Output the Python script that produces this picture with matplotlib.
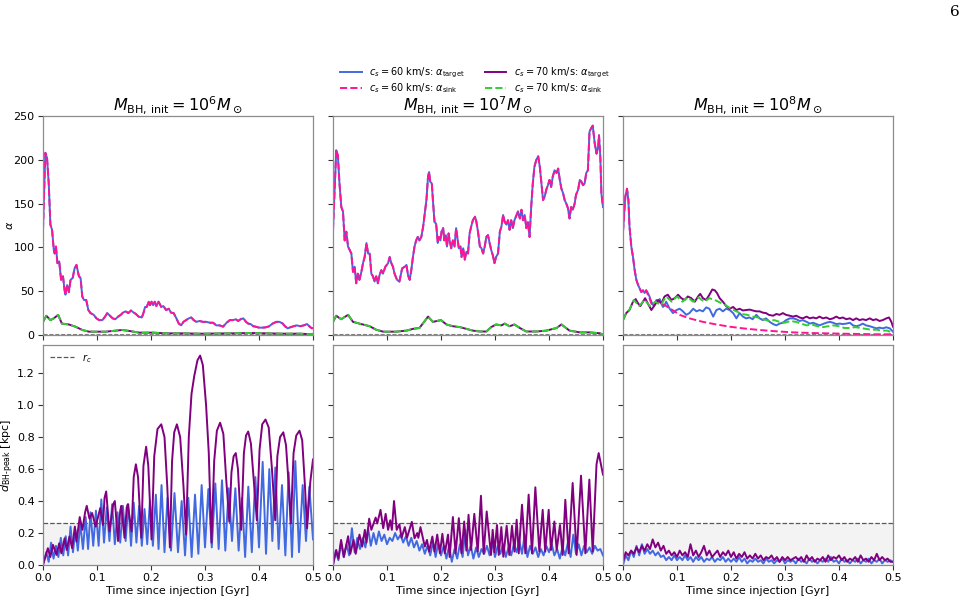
import matplotlib
matplotlib.use("Agg")
import matplotlib.pyplot as plt
import numpy as np

# ---------------- data ----------------
masses = ["10^6", "10^7", "10^8"]
xticks = [0.0, 0.1, 0.2, 0.3, 0.4, 0.5]
alpha_ticks = [0, 50, 100, 150, 200, 250]
d_ticks = [0.0, 0.2, 0.4, 0.6, 0.8, 1.0, 1.2]
r_c = 0.265

# alpha, M=1e6, cs=60 (target == sink)
alpha60_1e6 = [(0, 120), (0.0043, 208), (0.0075, 202), (0.0106, 173), (0.0137, 126), (0.0168, 120),
               (0.020, 97), (0.0217, 93), (0.024, 101), (0.0267, 82), (0.030, 84), (0.0335, 63),
               (0.037, 67), (0.040, 51), (0.0416, 46), (0.0447, 57), (0.048, 49), (0.051, 63),
               (0.055, 65), (0.0584, 76), (0.062, 80), (0.0665, 67), (0.0696, 65), (0.0727, 44),
               (0.0758, 40), (0.080, 40), (0.084, 28.5), (0.088, 25), (0.094, 23), (0.099, 19),
               (0.104, 17), (0.110, 17), (0.115, 21), (0.119, 25), (0.124, 22), (0.129, 19),
               (0.134, 18), (0.139, 21), (0.144, 23), (0.148, 25.5), (0.153, 27), (0.158, 25),
               (0.163, 28), (0.167, 26), (0.172, 24), (0.177, 21), (0.183, 20), (0.186, 25),
               (0.189, 32), (0.192, 32), (0.196, 38), (0.198, 34), (0.201, 38), (0.204, 34),
               (0.207, 38), (0.210, 33), (0.214, 38), (0.219, 32), (0.223, 33), (0.228, 28.5),
               (0.233, 30), (0.237, 25.5), (0.242, 25), (0.247, 19), (0.2515, 13), (0.256, 11),
               (0.260, 15), (0.265, 17), (0.270, 19), (0.2745, 20), (0.279, 17), (0.284, 15),
               (0.290, 16), (0.296, 15), (0.3025, 15), (0.309, 14), (0.315, 14), (0.321, 11),
               (0.327, 11), (0.3335, 9.5), (0.340, 14), (0.346, 17), (0.352, 17), (0.357, 18),
               (0.3615, 16), (0.366, 18), (0.371, 19), (0.376, 15), (0.380, 13), (0.3845, 12.5),
               (0.3894, 10), (0.394, 9.5), (0.400, 8.4), (0.407, 8.4), (0.413, 8.8), (0.419, 10),
               (0.425, 13), (0.432, 15), (0.438, 15), (0.444, 13), (0.448, 10), (0.453, 7.6),
               (0.458, 8.8), (0.464, 10), (0.470, 11), (0.476, 10), (0.483, 11), (0.489, 12.5),
               (0.494, 9.5), (0.498, 7.6), (0.5, 8)]
# alpha, M=1e6, cs=70 (target == sink)
alpha70_1e6 = [(0, 15), (0.0062, 22), (0.0137, 17), (0.020, 19), (0.028, 23), (0.035, 13),
               (0.048, 12), (0.060, 9.5), (0.073, 5.7), (0.085, 3.8), (0.104, 3.8), (0.116, 3.8),
               (0.135, 5), (0.147, 5.7), (0.160, 4.6), (0.178, 2.7), (0.203, 2.7), (0.228, 1.9),
               (0.259, 1.9), (0.290, 1.5), (0.352, 1.9), (0.383, 2.3), (0.414, 1.9), (0.445, 1.5),
               (0.476, 1.5), (0.5, 0.8)]

# alpha, M=1e7, cs=60 (target == sink)
alpha60_1e7 = [(0.0, 120), (0.006, 211), (0.009, 205), (0.012, 173), (0.0154, 146), (0.0185, 141),
               (0.0216, 108), (0.0247, 118), (0.0278, 101), (0.031, 97), (0.034, 93), (0.037, 72),
               (0.040, 78), (0.043, 59), (0.046, 70), (0.049, 63), (0.0525, 72), (0.0556, 82),
               (0.0586, 89), (0.062, 105), (0.065, 93), (0.068, 93), (0.071, 70), (0.074, 67),
               (0.077, 61), (0.080, 67), (0.083, 59), (0.086, 68), (0.0895, 74), (0.0926, 70),
               (0.097, 78), (0.102, 82), (0.105, 89), (0.108, 82), (0.111, 78), (0.114, 70),
               (0.1185, 63), (0.123, 61), (0.128, 76), (0.133, 78), (0.136, 80), (0.139, 68),
               (0.142, 63), (0.145, 74), (0.148, 89), (0.151, 101), (0.154, 108), (0.157, 112),
               (0.160, 108), (0.1636, 112), (0.167, 124), (0.170, 139), (0.173, 154), (0.176, 181),
               (0.178, 186), (0.180, 175), (0.183, 173), (0.185, 154), (0.188, 129), (0.191, 127),
               (0.194, 105), (0.196, 112), (0.199, 108), (0.201, 118), (0.204, 122), (0.206, 108),
               (0.209, 114), (0.211, 101), (0.214, 116), (0.216, 108), (0.219, 99), (0.222, 108),
               (0.225, 101), (0.228, 122), (0.231, 108), (0.233, 99), (0.236, 101), (0.238, 89),
               (0.241, 99), (0.244, 86), (0.247, 95), (0.250, 93), (0.253, 116), (0.256, 124),
               (0.259, 131), (0.263, 135), (0.265, 131), (0.2685, 118), (0.272, 101), (0.275, 99),
               (0.278, 93), (0.281, 101), (0.284, 112), (0.287, 114), (0.290, 105), (0.293, 97),
               (0.296, 91), (0.299, 82), (0.302, 89), (0.3056, 93), (0.309, 118), (0.312, 124),
               (0.315, 137), (0.318, 129), (0.321, 126), (0.324, 131), (0.327, 120), (0.330, 131),
               (0.333, 122), (0.336, 131), (0.340, 137), (0.3426, 141), (0.346, 133), (0.349, 143),
               (0.352, 131), (0.355, 137), (0.358, 122), (0.361, 129), (0.364, 112), (0.367, 146),
               (0.370, 173), (0.373, 192), (0.3765, 200), (0.380, 204), (0.383, 192), (0.386, 173),
               (0.389, 154), (0.392, 158), (0.395, 166), (0.398, 171), (0.401, 177), (0.404, 169),
               (0.407, 181), (0.4105, 188), (0.414, 185), (0.417, 190), (0.420, 177), (0.423, 167),
               (0.426, 162), (0.429, 154), (0.432, 150), (0.435, 145), (0.438, 133), (0.441, 146),
               (0.444, 143), (0.4475, 150), (0.450, 160), (0.454, 166), (0.457, 177), (0.460, 175),
               (0.463, 171), (0.466, 173), (0.469, 185), (0.472, 188), (0.475, 232), (0.478, 236),
               (0.481, 239), (0.4846, 219), (0.488, 207), (0.491, 215), (0.4926, 228), (0.495, 204),
               (0.497, 162), (0.5, 146)]
# alpha, M=1e7, cs=70 (target == sink)
alpha70_1e7 = [(0.0, 15), (0.006, 22), (0.015, 18), (0.028, 23), (0.037, 15), (0.049, 13),
               (0.068, 10), (0.080, 6), (0.093, 3.8), (0.117, 3.8), (0.136, 5), (0.148, 7),
               (0.160, 8), (0.170, 16), (0.176, 21), (0.185, 15), (0.200, 17), (0.210, 12),
               (0.222, 10), (0.235, 9), (0.247, 7), (0.259, 5), (0.272, 4), (0.284, 4),
               (0.293, 9), (0.302, 12), (0.312, 11), (0.318, 13), (0.327, 10), (0.336, 12),
               (0.346, 8), (0.358, 4), (0.377, 4), (0.395, 5), (0.414, 8), (0.423, 12),
               (0.438, 5), (0.457, 3), (0.475, 3), (0.494, 2), (0.5, 0.5)]

# alpha, M=1e8
alpha60_target_1e8 = [(0.0, 118), (0.0043, 158), (0.0074, 167), (0.010, 154), (0.012, 124),
                      (0.0154, 101), (0.0185, 89), (0.0216, 74), (0.0247, 63), (0.028, 57),
                      (0.031, 53), (0.034, 49), (0.037, 51), (0.040, 48), (0.043, 51), (0.046, 48),
                      (0.049, 44), (0.0525, 38), (0.056, 34), (0.0586, 36), (0.062, 40), (0.065, 38),
                      (0.068, 41), (0.071, 36), (0.074, 32), (0.077, 34), (0.080, 38), (0.0864, 30),
                      (0.0926, 25), (0.099, 28.5), (0.105, 30), (0.111, 27), (0.117, 23), (0.123, 25),
                      (0.130, 30), (0.136, 27), (0.142, 28.5), (0.148, 27), (0.154, 31.5), (0.160, 30),
                      (0.167, 21), (0.173, 28.5), (0.179, 30), (0.185, 27), (0.191, 30), (0.1975, 28.5),
                      (0.204, 25), (0.210, 19), (0.216, 25), (0.222, 21), (0.228, 19), (0.2346, 20),
                      (0.240, 18), (0.247, 23), (0.253, 19), (0.259, 17), (0.265, 19), (0.2716, 15),
                      (0.278, 12.5), (0.284, 11), (0.290, 13), (0.296, 14), (0.302, 17), (0.309, 19),
                      (0.315, 19), (0.321, 18), (0.327, 16), (0.333, 17), (0.340, 15), (0.346, 13),
                      (0.352, 14), (0.358, 12.5), (0.364, 11), (0.370, 12.5), (0.3765, 14), (0.383, 15),
                      (0.389, 14), (0.395, 12.5), (0.401, 13), (0.407, 12.5), (0.4136, 13), (0.420, 14),
                      (0.426, 11), (0.432, 10), (0.438, 11), (0.444, 13), (0.450, 11), (0.457, 10),
                      (0.463, 8.8), (0.469, 7.6), (0.475, 8.4), (0.481, 7.6), (0.4877, 8.8), (0.494, 7.6),
                      (0.5, 3.8)]
alpha60_sink_1e8 = [(0.0, 118), (0.0043, 158), (0.0074, 167), (0.010, 154), (0.012, 124),
                    (0.0154, 101), (0.0185, 89), (0.0216, 74), (0.0247, 63), (0.028, 57),
                    (0.031, 53), (0.034, 49), (0.037, 51), (0.040, 48), (0.043, 51), (0.046, 46),
                    (0.049, 42), (0.0525, 36), (0.056, 33), (0.0586, 35), (0.062, 38), (0.068, 37),
                    (0.080, 33), (0.093, 28), (0.105, 23), (0.123, 19), (0.148, 15), (0.173, 12),
                    (0.1975, 9.5), (0.222, 7.6), (0.253, 5.7), (0.284, 4.2), (0.315, 3),
                    (0.346, 2.3), (0.407, 1.5), (0.469, 0.8), (0.5, 0.8)]
alpha70_target_1e8 = [(0.0, 17), (0.006, 25), (0.012, 28.5), (0.0185, 38), (0.0235, 41), (0.028, 36),
                      (0.032, 33), (0.037, 38), (0.041, 42), (0.046, 36), (0.0525, 28.5), (0.0586, 34),
                      (0.065, 40), (0.071, 36), (0.077, 44), (0.083, 46), (0.0895, 40), (0.0957, 42),
                      (0.102, 46), (0.108, 42), (0.114, 40), (0.120, 44), (0.1265, 42), (0.133, 38),
                      (0.139, 44), (0.143, 47), (0.148, 42), (0.154, 40), (0.160, 46), (0.1654, 52),
                      (0.170, 51), (0.174, 48), (0.179, 42), (0.185, 38), (0.191, 33), (0.1975, 30),
                      (0.204, 32), (0.210, 28.5), (0.216, 30), (0.222, 28), (0.228, 28.5), (0.2346, 29),
                      (0.240, 28), (0.247, 27), (0.253, 27), (0.259, 25.5), (0.265, 25), (0.270, 23),
                      (0.278, 22), (0.284, 24), (0.290, 23), (0.296, 25), (0.302, 23), (0.309, 22),
                      (0.315, 21), (0.321, 22), (0.327, 20), (0.333, 19), (0.340, 21), (0.346, 19),
                      (0.352, 20), (0.358, 19), (0.364, 21), (0.370, 19), (0.3765, 20), (0.383, 18),
                      (0.389, 19), (0.395, 21), (0.401, 19), (0.407, 20), (0.4136, 18), (0.420, 19),
                      (0.426, 17), (0.432, 19), (0.438, 17), (0.444, 18), (0.450, 17), (0.457, 19),
                      (0.463, 17), (0.469, 18), (0.475, 16), (0.481, 17), (0.4877, 19), (0.4926, 20),
                      (0.497, 15), (0.5, 9.5)]
alpha70_sink_1e8 = [(0.0, 17), (0.006, 25), (0.012, 29), (0.020, 40), (0.030, 33), (0.040, 40),
                    (0.050, 33), (0.060, 38), (0.070, 34), (0.080, 44), (0.090, 38), (0.100, 44),
                    (0.110, 38), (0.120, 43), (0.130, 38), (0.140, 43), (0.150, 38), (0.160, 42),
                    (0.170, 40), (0.180, 37), (0.190, 34), (0.200, 30), (0.210, 27), (0.220, 24),
                    (0.230, 23), (0.240, 21), (0.250, 20), (0.260, 18), (0.270, 16), (0.280, 17),
                    (0.290, 15), (0.300, 14), (0.310, 16), (0.320, 15), (0.330, 13), (0.340, 11),
                    (0.350, 12), (0.360, 10), (0.370, 9), (0.380, 10), (0.390, 11), (0.400, 10),
                    (0.410, 8), (0.420, 8), (0.430, 9), (0.440, 8), (0.450, 7), (0.460, 6),
                    (0.470, 6), (0.480, 5), (0.490, 5), (0.5, 2)]

# d_BH-peak [kpc]
d60_1e6 = [(0, 0.0), (0.006, 0.08), (0.0105, 0.02), (0.015, 0.14), (0.0195, 0.04), (0.024, 0.12),
           (0.0285, 0.05), (0.033, 0.17), (0.0375, 0.06), (0.042, 0.18), (0.0465, 0.06), (0.051, 0.24),
           (0.0555, 0.08), (0.060, 0.22), (0.0645, 0.09), (0.069, 0.26), (0.074, 0.10), (0.079, 0.30),
           (0.0835, 0.10), (0.088, 0.33), (0.093, 0.12), (0.098, 0.34), (0.103, 0.12), (0.108, 0.41),
           (0.113, 0.14), (0.118, 0.36), (0.123, 0.15), (0.128, 0.38), (0.133, 0.13), (0.138, 0.33),
           (0.143, 0.14), (0.148, 0.37), (0.153, 0.15), (0.158, 0.38), (0.163, 0.12), (0.168, 0.39),
           (0.173, 0.14), (0.178, 0.37), (0.183, 0.12), (0.188, 0.35), (0.193, 0.13), (0.198, 0.40),
           (0.2035, 0.12), (0.209, 0.44), (0.214, 0.10), (0.2195, 0.50), (0.225, 0.08), (0.2305, 0.42),
           (0.237, 0.09), (0.2435, 0.45), (0.250, 0.08), (0.2568, 0.40), (0.263, 0.06), (0.2691, 0.42),
           (0.2753, 0.05), (0.2815, 0.44), (0.2877, 0.07), (0.2938, 0.50), (0.300, 0.11), (0.3062, 0.475),
           (0.3126, 0.11), (0.3191, 0.51), (0.3253, 0.10), (0.3315, 0.53), (0.3376, 0.09), (0.3438, 0.48),
           (0.350, 0.15), (0.3562, 0.48), (0.3623, 0.09), (0.3685, 0.42), (0.3743, 0.05), (0.3802, 0.49),
           (0.3867, 0.08), (0.3932, 0.55), (0.400, 0.11), (0.4068, 0.645), (0.413, 0.07), (0.4191, 0.60),
           (0.4247, 0.15), (0.4302, 0.61), (0.4364, 0.10), (0.4426, 0.50), (0.4488, 0.06), (0.4549, 0.58),
           (0.4611, 0.05), (0.4673, 0.65), (0.4741, 0.08), (0.4809, 0.50), (0.487, 0.15), (0.4932, 0.49),
           (0.5, 0.16)]
d70_1e6 = [(0, 0.0), (0.009, 0.105), (0.0136, 0.05), (0.0185, 0.126), (0.025, 0.063), (0.030, 0.136),
           (0.034, 0.073), (0.040, 0.167), (0.044, 0.094), (0.049, 0.178), (0.054, 0.105), (0.059, 0.24),
           (0.062, 0.147), (0.068, 0.30), (0.073, 0.22), (0.078, 0.33), (0.081, 0.37), (0.086, 0.29),
           (0.091, 0.325), (0.0975, 0.24), (0.106, 0.356), (0.111, 0.25), (0.114, 0.42), (0.117, 0.46),
           (0.123, 0.21), (0.130, 0.38), (0.133, 0.40), (0.139, 0.15), (0.143, 0.34), (0.145, 0.37),
           (0.151, 0.17), (0.155, 0.36), (0.157, 0.38), (0.164, 0.21), (0.168, 0.55), (0.172, 0.63),
           (0.176, 0.55), (0.182, 0.17), (0.186, 0.62), (0.191, 0.74), (0.195, 0.62), (0.201, 0.16),
           (0.206, 0.68), (0.212, 0.85), (0.219, 0.88), (0.225, 0.80), (0.230, 0.50), (0.235, 0.11),
           (0.239, 0.65), (0.243, 0.83), (0.248, 0.88), (0.254, 0.80), (0.260, 0.50), (0.265, 0.19),
           (0.270, 0.80), (0.275, 1.07), (0.280, 1.18), (0.286, 1.28), (0.291, 1.31), (0.296, 1.25),
           (0.302, 1.00), (0.307, 0.70), (0.312, 0.14), (0.317, 0.65), (0.322, 0.84), (0.328, 0.89),
           (0.334, 0.82), (0.339, 0.55), (0.345, 0.27), (0.349, 0.58), (0.353, 0.68), (0.357, 0.70),
           (0.361, 0.60), (0.367, 0.22), (0.372, 0.70), (0.376, 0.81), (0.380, 0.835), (0.385, 0.76),
           (0.391, 0.50), (0.396, 0.28), (0.401, 0.72), (0.406, 0.88), (0.412, 0.91), (0.418, 0.86),
           (0.424, 0.60), (0.430, 0.28), (0.434, 0.68), (0.439, 0.80), (0.445, 0.83), (0.450, 0.75),
           (0.455, 0.50), (0.459, 0.26), (0.464, 0.70), (0.469, 0.81), (0.475, 0.84), (0.480, 0.78),
           (0.485, 0.50), (0.489, 0.23), (0.495, 0.52), (0.5, 0.66)]

d60_1e7 = [0.00, 0.09, 0.03, 0.14, 0.05, 0.13, 0.06, 0.23, 0.08, 0.17, 0.10, 0.17, 0.11, 0.23, 0.12,
           0.20, 0.13, 0.21, 0.15, 0.19, 0.13, 0.17, 0.15, 0.20, 0.16, 0.19, 0.14, 0.18, 0.12, 0.17,
           0.11, 0.15, 0.09, 0.13, 0.07, 0.12, 0.06, 0.14, 0.05, 0.14, 0.06, 0.12, 0.04, 0.12, 0.02,
           0.10, 0.04, 0.13, 0.05, 0.22, 0.06, 0.12, 0.04, 0.11, 0.05, 0.10, 0.07, 0.12, 0.06, 0.14,
           0.05, 0.12, 0.07, 0.13, 0.05, 0.11, 0.06, 0.13, 0.08, 0.15, 0.07, 0.19, 0.05, 0.12, 0.07,
           0.11, 0.05, 0.10, 0.06, 0.12, 0.08, 0.13, 0.06, 0.10, 0.04, 0.11, 0.06, 0.14, 0.05, 0.19,
           0.07, 0.13, 0.06, 0.12, 0.08, 0.11, 0.07, 0.12, 0.09, 0.10, 0.06]
d70_1e7 = [(0, 0.0), (0.006, 0.094), (0.010, 0.04), (0.015, 0.157), (0.020, 0.05), (0.028, 0.18),
           (0.032, 0.07), (0.038, 0.157), (0.042, 0.07), (0.049, 0.19), (0.054, 0.115), (0.059, 0.22),
           (0.062, 0.14), (0.067, 0.29), (0.071, 0.22), (0.079, 0.297), (0.082, 0.26), (0.088, 0.345),
           (0.093, 0.23), (0.0975, 0.32), (0.102, 0.22), (0.106, 0.28), (0.109, 0.22), (0.113, 0.40),
           (0.118, 0.22), (0.123, 0.255), (0.127, 0.17), (0.133, 0.237), (0.137, 0.17), (0.146, 0.27),
           (0.151, 0.167), (0.156, 0.20), (0.158, 0.17), (0.162, 0.237), (0.170, 0.115), (0.174, 0.157),
           (0.178, 0.084), (0.184, 0.178), (0.188, 0.084), (0.193, 0.19), (0.198, 0.073), (0.2025, 0.195),
           (0.207, 0.073), (0.213, 0.19), (0.216, 0.05), (0.222, 0.30), (0.227, 0.073), (0.233, 0.293),
           (0.238, 0.073), (0.243, 0.272), (0.247, 0.09), (0.251, 0.314), (0.2556, 0.094), (0.2617, 0.32),
           (0.268, 0.084), (0.274, 0.433), (0.279, 0.07), (0.2846, 0.335), (0.2926, 0.063), (0.2957, 0.22),
           (0.299, 0.08), (0.3037, 0.25), (0.307, 0.063), (0.3117, 0.237), (0.3154, 0.052), (0.3216, 0.245),
           (0.3265, 0.063), (0.3315, 0.245), (0.336, 0.084), (0.3401, 0.283), (0.344, 0.073), (0.350, 0.377),
           (0.3562, 0.073), (0.3623, 0.44), (0.3685, 0.073), (0.3747, 0.486), (0.3821, 0.084), (0.3883, 0.345),
           (0.393, 0.084), (0.3994, 0.345), (0.4037, 0.094), (0.4099, 0.272), (0.4142, 0.094), (0.4204, 0.25),
           (0.4253, 0.063), (0.4302, 0.408), (0.4364, 0.073), (0.4438, 0.513), (0.4512, 0.063), (0.4593, 0.559),
           (0.4673, 0.073), (0.4747, 0.534), (0.4809, 0.084), (0.488, 0.63), (0.492, 0.70), (0.5, 0.565)]

d60_1e8 = [0.00, 0.06, 0.03, 0.09, 0.05, 0.12, 0.06, 0.13, 0.07, 0.10, 0.07, 0.09, 0.06, 0.08, 0.05,
           0.06, 0.03, 0.05, 0.03, 0.06, 0.03, 0.05, 0.03, 0.06, 0.03, 0.05, 0.02, 0.05, 0.03, 0.05,
           0.02, 0.04, 0.03, 0.05, 0.02, 0.04, 0.03, 0.05, 0.02, 0.04, 0.02, 0.04, 0.02, 0.05, 0.02,
           0.04, 0.01, 0.03, 0.02, 0.04, 0.02, 0.03, 0.01, 0.04, 0.02, 0.03, 0.01, 0.03, 0.02, 0.04,
           0.01, 0.03, 0.02, 0.03, 0.01, 0.04, 0.02, 0.03, 0.01, 0.04, 0.02, 0.03, 0.01, 0.03, 0.02,
           0.04, 0.02, 0.05, 0.02, 0.03, 0.01, 0.04, 0.02, 0.03, 0.01, 0.03, 0.02, 0.04, 0.01, 0.03,
           0.02, 0.04, 0.01, 0.03, 0.02, 0.04, 0.01, 0.03, 0.02, 0.03, 0.02]
d70_1e8 = [0.02, 0.08, 0.06, 0.09, 0.07, 0.11, 0.08, 0.12, 0.09, 0.13, 0.10, 0.16, 0.11, 0.14, 0.09,
           0.12, 0.07, 0.09, 0.06, 0.08, 0.05, 0.09, 0.06, 0.08, 0.05, 0.13, 0.06, 0.09, 0.05, 0.08,
           0.12, 0.06, 0.09, 0.05, 0.07, 0.09, 0.05, 0.08, 0.06, 0.09, 0.05, 0.08, 0.04, 0.07, 0.05,
           0.08, 0.04, 0.06, 0.04, 0.07, 0.04, 0.06, 0.03, 0.05, 0.04, 0.06, 0.03, 0.05, 0.02, 0.05,
           0.03, 0.05, 0.03, 0.04, 0.05, 0.03, 0.05, 0.02, 0.06, 0.03, 0.05, 0.02, 0.04, 0.03, 0.05,
           0.02, 0.06, 0.03, 0.05, 0.04, 0.06, 0.03, 0.05, 0.02, 0.04, 0.03, 0.05, 0.02, 0.06, 0.03,
           0.04, 0.02, 0.05, 0.03, 0.07, 0.03, 0.05, 0.03, 0.04, 0.02, 0.02]

# ---------------- plotting ----------------
BLUE, PINK, PURPLE, GREEN = "royalblue", "deeppink", "purple", "limegreen"
W, H = 967, 601
fig = plt.figure(figsize=(W / 100, H / 100), dpi=100)
lefts = [43, 333, 623]
top_axes = [fig.add_axes([l / W, 1 - 335 / H, 270 / W, 219 / H]) for l in lefts]
bot_axes = [fig.add_axes([l / W, 1 - 565 / H, 270 / W, 220 / H]) for l in lefts]


def xy(pts):
    a = np.array(pts, dtype=float)
    return a[:, 0], a[:, 1]


grid = np.linspace(0, 0.5, 101)

top_data = [
    (alpha60_1e6, alpha60_1e6, alpha70_1e6, alpha70_1e6),
    (alpha60_1e7, alpha60_1e7, alpha70_1e7, alpha70_1e7),
    (alpha60_target_1e8, alpha60_sink_1e8, alpha70_target_1e8, alpha70_sink_1e8),
]
bot_data = [
    (xy(d60_1e6), xy(d70_1e6)),
    ((grid, np.array(d60_1e7)), xy(d70_1e7)),
    ((grid, np.array(d60_1e8)), (grid, np.array(d70_1e8))),
]

for i, ax in enumerate(top_axes):
    t60, s60, t70, s70 = top_data[i]
    ax.axhline(1, color="gray", ls="--", lw=0.8)
    l1, = ax.plot(*xy(t60), color=BLUE, lw=1.4)
    l2, = ax.plot(*xy(s60), color=PINK, lw=1.4, ls="--")
    l3, = ax.plot(*xy(t70), color=PURPLE, lw=1.4)
    l4, = ax.plot(*xy(s70), color=GREEN, lw=1.4, ls="--")
    ax.set_xlim(0, 0.5)
    ax.set_ylim(0, 250)
    ax.set_xticks(xticks)
    ax.set_xticklabels([])
    ax.set_yticks(alpha_ticks)
    if i == 0:
        ax.set_ylabel(r"$\alpha$", fontsize=8)
        ax.yaxis.set_label_coords(-0.105, 0.5)
        handles = [l1, l2, l3, l4]
    else:
        ax.set_yticklabels([])
    ax.set_title(r"$M_{\rm BH,\,init} = %s M_\odot$" % masses[i], fontsize=11.5, pad=4)

for i, ax in enumerate(bot_axes):
    (tb, vb), (tp, vp) = bot_data[i]
    ax.axhspan(0, r_c, color="lightgray", alpha=0.25, lw=0)
    rl = ax.axhline(r_c, color="0.35", ls="--", lw=0.9, label=r"$r_c$")
    ax.plot(tb, vb, color=BLUE, lw=1.4)
    ax.plot(tp, vp, color=PURPLE, lw=1.4)
    ax.set_xlim(0, 0.5)
    ax.set_ylim(0, 1.376)
    ax.set_xticks(xticks)
    ax.set_xticklabels([f"{x:.1f}" for x in xticks])
    ax.set_yticks(d_ticks)
    ax.set_xlabel("Time since injection [Gyr]", fontsize=8, labelpad=2)
    if i == 0:
        ax.set_yticklabels([f"{y:.1f}" for y in d_ticks])
        ax.set_ylabel(r"$d_{\rm BH\text{-}peak}$ [kpc]", fontsize=8)
        ax.yaxis.set_label_coords(-0.1, 0.5)
        ax.legend(handles=[rl], loc="upper left", frameon=False, fontsize=7,
                  handlelength=2.5, borderaxespad=0.3)
    else:
        ax.set_yticklabels([])

for ax in top_axes + bot_axes:
    ax.tick_params(labelsize=8, length=3.5, width=0.8, color="0.2", pad=2.5)
    for s in ax.spines.values():
        s.set_color("0.55")
        s.set_linewidth(0.9)

labels = [r"$c_s = 60$ km/s: $\alpha_{\rm target}$", r"$c_s = 60$ km/s: $\alpha_{\rm sink}$",
          r"$c_s = 70$ km/s: $\alpha_{\rm target}$", r"$c_s = 70$ km/s: $\alpha_{\rm sink}$"]
fig.legend(handles, labels, loc="upper center", bbox_to_anchor=(0.491, 0.905), ncol=2,
           frameon=False, fontsize=7, columnspacing=2.0, handlelength=2.2, labelspacing=0.08)

fig.text(0.992, 0.992, "6", ha="right", va="top", fontsize=11, family="DejaVu Serif")

fig.savefig("out.png", dpi=100)
